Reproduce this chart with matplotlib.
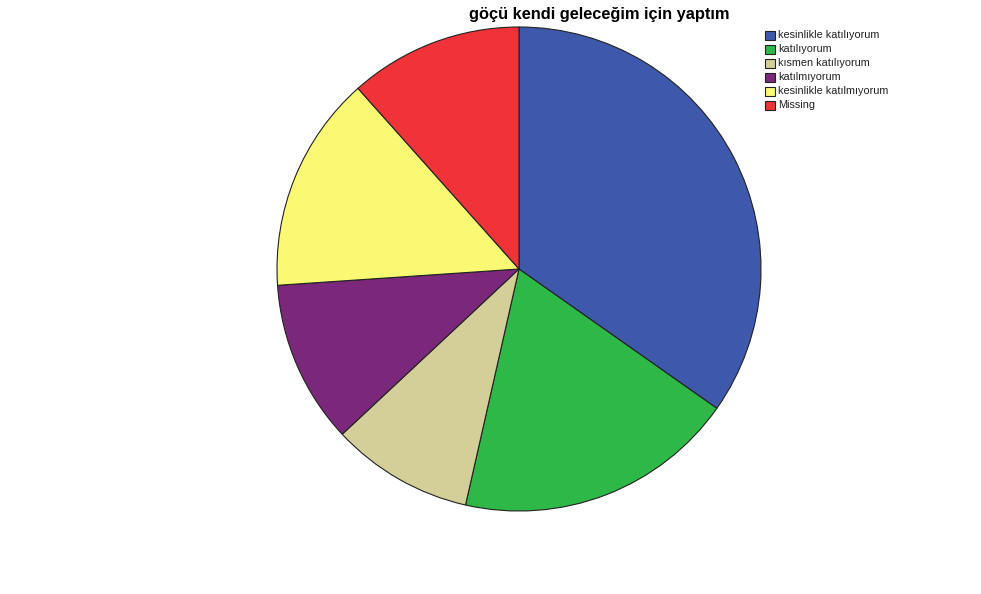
import matplotlib
matplotlib.use("Agg")
import matplotlib.pyplot as plt
from matplotlib.patches import Rectangle

title = "göçü kendi geleceğim için yaptım"
categories = ["kesinlikle katılıyorum", "katılıyorum", "kısmen katılıyorum",
              "katılmıyorum", "kesinlikle katılmıyorum", "Missing"]
values = [34.8, 18.8, 9.5, 10.9, 14.5, 11.6]
colors = ["#3E58AC", "#2EB848", "#D4CE99", "#7B287C", "#FBF873", "#EF3338"]

W, H = 981, 594
fig = plt.figure(figsize=(W / 100, H / 100), dpi=100)
fig.patch.set_facecolor("white")

cx, cy, r = 519, 269, 242
ax = fig.add_axes([(cx - r) / W, (H - cy - r) / H, 2 * r / W, 2 * r / H])
ax.pie(values, colors=colors, startangle=90, counterclock=False, radius=1,
       wedgeprops=dict(edgecolor="#222222", linewidth=0.8))
ax.set_xlim(-1.0, 1.0)
ax.set_ylim(-1.0, 1.0)
ax.set_aspect("equal")
ax.axis("off")

fig.text(599 / W, 1 - 14 / H, title, ha="center", va="center",
         fontsize=11.8, fontweight="bold", family=["Liberation Sans", "DejaVu Sans"])

# legend
lx, ly0, dy = 765, 35, 14.1
bw, bh = 10, 9
for i, (lab, col) in enumerate(zip(categories, colors)):
    y = ly0 + i * dy
    fig.patches.append(Rectangle(((lx) / W, 1 - (y + bh / 2) / H), bw / W, bh / H,
                                 transform=fig.transFigure, facecolor=col,
                                 edgecolor="#222222", linewidth=0.8))
    fig.text((lx + bw + 3) / W, 1 - y / H, lab, ha="left", va="center",
             fontsize=7.8, family=["Liberation Sans", "DejaVu Sans"], color="#222222")

fig.savefig("out.png", dpi=100)
